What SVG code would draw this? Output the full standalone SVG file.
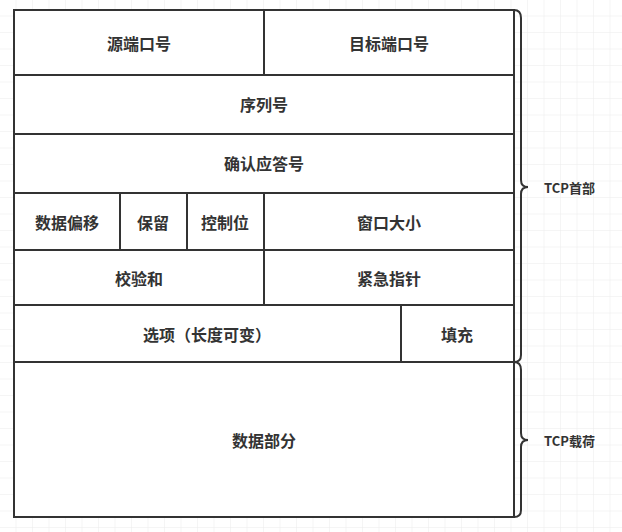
<svg xmlns="http://www.w3.org/2000/svg" width="622" height="532" viewBox="0 0 622 532">
<style>
.c{fill:#fff;stroke:#333;stroke-width:2}
.l{stroke:#333;stroke-width:2;fill:none}
.t{font-family:"Noto Sans CJK SC",sans-serif;font-size:16px;font-weight:bold;fill:#333;text-anchor:middle;dominant-baseline:central}
.b{font-family:"Noto Sans CJK SC",sans-serif;font-size:13px;font-weight:bold;fill:#333;dominant-baseline:central}
</style>
<defs><pattern id="g" width="16.5" height="16.5" patternUnits="userSpaceOnUse"><path d="M16.5 0V16.5H0" fill="none" stroke="#ebebeb" stroke-width="1"/></pattern></defs>
<rect width="622" height="532" fill="#fff"/>
<rect width="622" height="532" fill="url(#g)"/>
<g id="n1"><rect class="c" x="14" y="10" width="250" height="65"/><text class="t" x="139" y="43">源端口号</text></g>
<g id="n2"><rect class="c" x="264" y="10" width="250" height="65"/><text class="t" x="389" y="43">目标端口号</text></g>
<g id="n3"><rect class="c" x="14" y="75" width="500" height="59"/><text class="t" x="264" y="104">序列号</text></g>
<g id="n4"><rect class="c" x="14" y="134" width="500" height="59"/><text class="t" x="264" y="163">确认应答号</text></g>
<g id="n5"><rect class="c" x="14" y="193" width="106" height="57"/><text class="t" x="67" y="222">数据偏移</text></g>
<g id="n6"><rect class="c" x="120" y="193" width="67" height="57"/><text class="t" x="153" y="222">保留</text></g>
<g id="n7"><rect class="c" x="187" y="193" width="77" height="57"/><text class="t" x="225" y="222">控制位</text></g>
<g id="n8"><rect class="c" x="264" y="193" width="250" height="57"/><text class="t" x="389" y="222">窗口大小</text></g>
<g id="n9"><rect class="c" x="14" y="250" width="250" height="55"/><text class="t" x="139" y="278">校验和</text></g>
<g id="n10"><rect class="c" x="264" y="250" width="250" height="55"/><text class="t" x="389" y="278">紧急指针</text></g>
<g id="n11"><rect class="c" x="14" y="305" width="387" height="57"/><text class="t" x="207" y="334">选项（长度可变）</text></g>
<g id="n12"><rect class="c" x="401" y="305" width="113" height="57"/><text class="t" x="457" y="334">填充</text></g>
<g id="n13"><rect class="c" x="14" y="362" width="500" height="155"/><text class="t" x="264" y="440">数据部分</text></g>
<g id="connectors">
<path class="l" d="M514 10Q521 10 521 18V180Q521 187 528 187Q521 187 521 194V355Q521 362 514 362"/>
<path class="l" d="M514 362Q521 362 521 370V433Q521 440 528 440Q521 440 521 447V510Q521 517 514 517"/>
</g>
<g id="labels"><text class="b" x="544" y="187">TCP首部</text><text class="b" x="544" y="440">TCP载荷</text></g>
</svg>
